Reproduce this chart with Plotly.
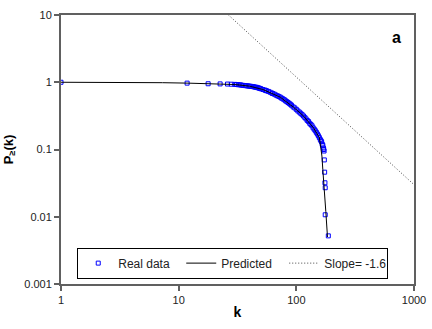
import plotly.graph_objects as go

real_k = [1, 11.8, 17.8, 22.5, 26, 28, 30, 31, 32, 33, 34, 35, 36, 37, 38, 39, 40, 41,
          42, 43, 44, 45, 46, 47, 48, 49, 50, 52, 54, 55, 56, 58, 60, 62, 63, 65, 67, 69,
          71, 73, 75, 77, 79, 81, 83, 85, 87, 89, 91, 94, 97, 100, 103, 106, 109, 112, 115,
          118, 121, 124, 127, 130, 133, 136, 139, 142, 145, 148, 151, 154, 157, 160, 162,
          164, 166, 168, 170, 171, 172, 173, 174, 175, 176, 176, 187]
real_p = [1, 0.97, 0.95, 0.945, 0.94, 0.935, 0.93, 0.925, 0.92, 0.915, 0.91, 0.90, 0.895,
          0.89, 0.885, 0.88, 0.875, 0.87, 0.865, 0.86, 0.85, 0.845, 0.84, 0.83, 0.82, 0.81,
          0.80, 0.78, 0.765, 0.755, 0.745, 0.73, 0.71, 0.69, 0.68, 0.665, 0.645, 0.63, 0.615,
          0.60, 0.58, 0.565, 0.55, 0.53, 0.515, 0.50, 0.485, 0.47, 0.455, 0.43, 0.415, 0.395,
          0.375, 0.36, 0.345, 0.33, 0.315, 0.30, 0.285, 0.27, 0.26, 0.245, 0.235, 0.225,
          0.21, 0.20, 0.19, 0.18, 0.17, 0.16, 0.15, 0.14, 0.135, 0.13, 0.12, 0.115, 0.105,
          0.10, 0.095, 0.07, 0.046, 0.032, 0.027, 0.0107, 0.0052]

pred_k = [1, 7.2, 7.3, 12, 20, 30, 40, 52, 73, 94, 114, 140, 157, 160, 163, 165, 168, 172,
          178, 184]
pred_p = [1, 1, 0.985, 0.97, 0.95, 0.925, 0.875, 0.78, 0.60, 0.43, 0.32, 0.21, 0.15, 0.12,
          0.10, 0.08, 0.05, 0.03, 0.012, 0.005]

slope_k = [26.5, 1000]
slope_p = [10, 0.03]

x_ticks = [1, 10, 100, 1000]
y_ticks = [0.001, 0.01, 0.1, 1, 10]

trace_real = go.Scatter(x=real_k, y=real_p, name='Real data', mode='markers',
                        marker=dict(symbol='square-open', size=4, color='#0000ff',
                                    line=dict(width=1, color='#0000ff')))
trace_pred = go.Scatter(x=pred_k, y=pred_p, name='Predicted', mode='lines',
                        line=dict(color='black', width=1))
trace_slope = go.Scatter(x=slope_k, y=slope_p, name='Slope= -1.6', mode='lines',
                         line=dict(color='#444', width=1, dash='1px,2px'))

axis_style = dict(type='log', showline=True, linecolor='#606060', linewidth=2, mirror=True,
                  ticks='outside', tickcolor='#606060', ticklen=5, tickwidth=1.5,
                  showgrid=False, zeroline=False, automargin=False,
                  tickfont=dict(family='Liberation Sans', size=11, color='#222'))

layout = go.Layout(
    width=432, height=329,
    margin=dict(l=61, r=18, t=15, b=45),
    paper_bgcolor='white',
    plot_bgcolor='white',
    font=dict(family='Liberation Sans', color='black'),
    showlegend=True,
    legend=dict(orientation='h', x=0.046, y=0.02, xanchor='left', yanchor='bottom',
                bordercolor='black', borderwidth=1, bgcolor='white',
                entrywidth=58, font=dict(size=12, color='#222')),
    xaxis=dict(axis_style, range=[0, 3], tickvals=x_ticks,
               ticktext=[str(v) for v in x_ticks],
               title=dict(text='<b>k</b>', font=dict(size=14), standoff=2)),
    yaxis=dict(axis_style, range=[-3, 1], tickvals=y_ticks,
               ticktext=['0.001', '0.01', '0.1', '1', '10'],
               title=dict(text='<b>P<sub>≥</sub>(k)</b>', font=dict(size=13), standoff=8)),
    annotations=[dict(text='<b>a</b>', x=0.97, y=0.955, xref='paper', yref='paper',
                      showarrow=False, font=dict(size=16, color='black'))]
)

fig = go.Figure(data=[trace_real, trace_pred, trace_slope], layout=layout)
# the page body has a default 8px margin, drop it so the figure fills the window
fig.write_html("out.html", config={'displayModeBar': False},
               post_script="document.body.style.margin='0';")
